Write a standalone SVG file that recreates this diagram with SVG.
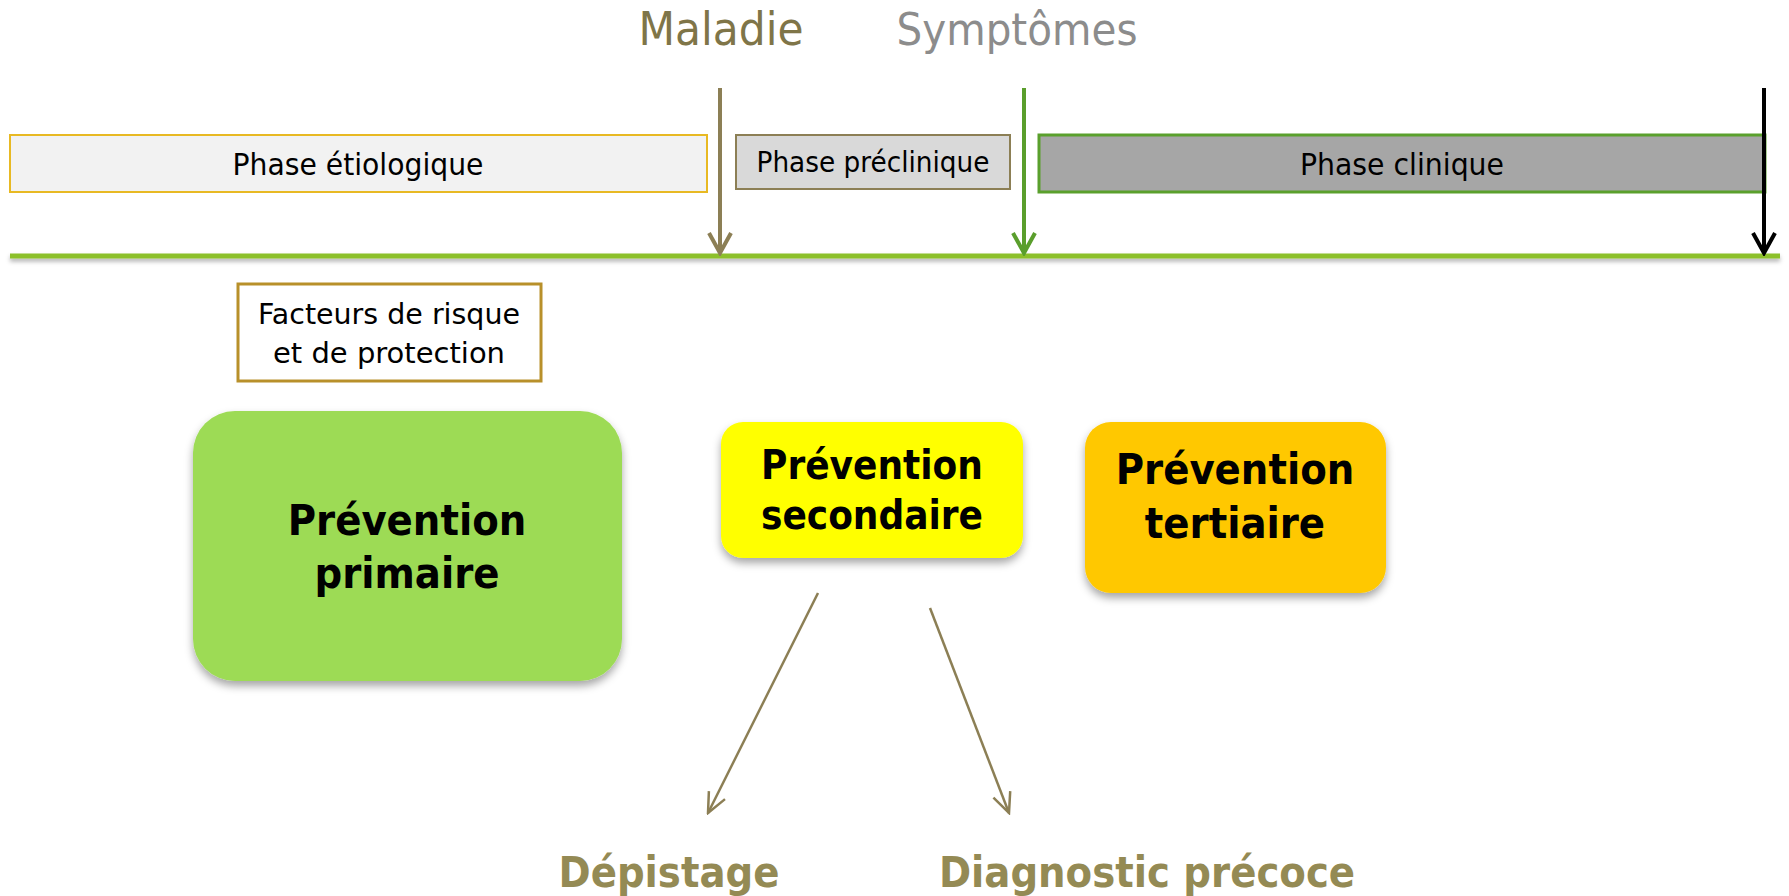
<svg xmlns="http://www.w3.org/2000/svg" width="1789" height="896" viewBox="0 0 1789 896">
<style>
.t{font-family:"DejaVu Sans Condensed","DejaVu Sans",sans-serif;text-anchor:middle;fill:#000}
.r{font-family:"DejaVu Sans",sans-serif;text-anchor:middle;fill:#000}
.b{font-weight:bold}
</style>
<defs>
<filter id="sh" x="-10%" y="-10%" width="120%" height="130%">
<feDropShadow dx="0" dy="5" stdDeviation="4" flood-color="#000" flood-opacity="0.35"/>
</filter>
<filter id="shl" filterUnits="userSpaceOnUse" x="0" y="240" width="1789" height="40">
<feDropShadow dx="0" dy="3" stdDeviation="2" flood-color="#000" flood-opacity="0.3"/>
</filter>
<marker id="ah-olive" markerUnits="userSpaceOnUse" viewBox="0 0 26 26" markerWidth="26" markerHeight="26" refX="23" refY="13" orient="auto"><path d="M3,2 L23,13 L3,24" fill="none" stroke="#8c7f55" stroke-width="4"/></marker>
<marker id="ah-green" markerUnits="userSpaceOnUse" viewBox="0 0 26 26" markerWidth="26" markerHeight="26" refX="23" refY="13" orient="auto"><path d="M3,2 L23,13 L3,24" fill="none" stroke="#5a9e2c" stroke-width="4"/></marker>
<marker id="ah-black" markerUnits="userSpaceOnUse" viewBox="0 0 26 26" markerWidth="26" markerHeight="26" refX="23" refY="13" orient="auto"><path d="M3,2 L23,13 L3,24" fill="none" stroke="#000" stroke-width="4"/></marker>
<marker id="ah-thin" markerUnits="userSpaceOnUse" viewBox="0 0 24 24" markerWidth="24" markerHeight="24" refX="22" refY="12" orient="auto"><path d="M2,3 L22,12 L2,21" fill="none" stroke="#8c7f55" stroke-width="2.5"/></marker>
</defs>
<rect width="1789" height="896" fill="#fff"/>

<g id="timeline">
<rect x="10" y="253.5" width="1770" height="5" fill="#8cc02a" filter="url(#shl)"/>
</g>

<g id="phase-etiologique">
<rect x="10" y="135" width="697" height="57" fill="#f2f2f2" stroke="#e8b923" stroke-width="2"/>
<text class="t" x="358" y="175" font-size="30" textLength="251" lengthAdjust="spacingAndGlyphs">Phase étiologique</text>
</g>
<g id="phase-preclinique">
<rect x="736" y="135" width="274" height="54" fill="#d9d9d9" stroke="#8c7f55" stroke-width="2"/>
<text class="t" x="873" y="172" font-size="28" textLength="233" lengthAdjust="spacingAndGlyphs">Phase préclinique</text>
</g>
<g id="phase-clinique">
<rect x="1039" y="135" width="726" height="57" fill="#a6a6a6" stroke="#5aa02c" stroke-width="3"/>
<text class="t" x="1402" y="175" font-size="30" textLength="204" lengthAdjust="spacingAndGlyphs">Phase clinique</text>
</g>

<g id="maladie">
<text class="t" x="721" y="45" font-size="46" textLength="165" lengthAdjust="spacingAndGlyphs" style="fill:#7f7548">Maladie</text>
</g>
<g id="symptomes">
<text class="t" x="1017" y="45" font-size="45" textLength="241" lengthAdjust="spacingAndGlyphs" style="fill:#8c8c8c">Symptômes</text>
</g>

<g id="facteurs">
<rect x="238" y="284" width="303" height="97" fill="#fff" stroke="#b8902a" stroke-width="3"/>
<text class="r" x="389" y="324" font-size="29" textLength="262" lengthAdjust="spacingAndGlyphs">Facteurs de risque</text>
<text class="r" x="389" y="363" font-size="29" textLength="232" lengthAdjust="spacingAndGlyphs">et de protection</text>
</g>

<g id="prevention-primaire">
<rect x="193" y="411" width="429" height="270" rx="42" fill="#9ddb55" filter="url(#sh)"/>
<text class="t b" x="407" y="535" font-size="43">Prévention</text>
<text class="t b" x="407" y="588" font-size="43">primaire</text>
</g>

<g id="prevention-secondaire">
<rect x="721" y="422" width="302" height="136" rx="22" fill="#ffff00" filter="url(#sh)"/>
<text class="t b" x="872" y="479" font-size="40">Prévention</text>
<text class="t b" x="872" y="529" font-size="40">secondaire</text>
</g>

<g id="prevention-tertiaire">
<rect x="1085" y="422" width="301" height="171" rx="26" fill="#ffc800" filter="url(#sh)"/>
<text class="t b" x="1235" y="484" font-size="43">Prévention</text>
<text class="t b" x="1235" y="538" font-size="43">tertiaire</text>
</g>

<g id="depistage">
<text class="t b" x="669" y="887" font-size="43" style="fill:#948a54">Dépistage</text>
</g>
<g id="diagnostic">
<text class="t b" x="1147" y="887" font-size="43" style="fill:#948a54">Diagnostic précoce</text>
</g>

<g id="connectors">
<line x1="720" y1="88" x2="720" y2="253" stroke="#8c7f55" stroke-width="4" marker-end="url(#ah-olive)"/>
<line x1="1024" y1="88" x2="1024" y2="253" stroke="#5a9e2c" stroke-width="4" marker-end="url(#ah-green)"/>
<line x1="1764" y1="88" x2="1764" y2="253" stroke="#000" stroke-width="4" marker-end="url(#ah-black)"/>
<line x1="818" y1="593" x2="708" y2="813" stroke="#8c7f55" stroke-width="2.5" marker-end="url(#ah-thin)"/>
<line x1="930" y1="608" x2="1009" y2="813" stroke="#8c7f55" stroke-width="2.5" marker-end="url(#ah-thin)"/>
</g>
</svg>
